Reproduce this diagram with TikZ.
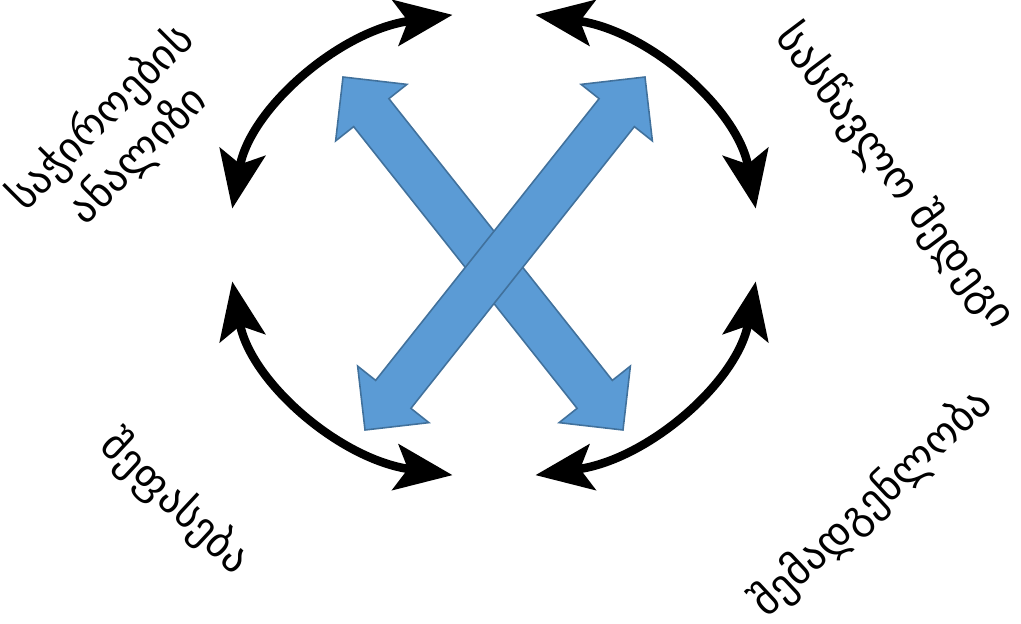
\documentclass[tikz,border=0pt]{standalone}
\usepackage{fontspec}
\newfontfamily\geofont{DejaVu Sans}
\usetikzlibrary{arrows.meta, calc}
\definecolor{crossblue}{HTML}{5B9BD5}
\definecolor{crossline}{HTML}{41719C}
\tikzset{
    cyclearrow/.style={{Stealth[length=1.15cm, width=0.92cm, inset=0.25cm]}-{Stealth[length=1.15cm, width=0.92cm, inset=0.25cm]}, line width=0.17cm, black},
    crossarrow/.style={fill=crossblue, draw=crossline, line width=0.9pt, line join=miter},
    phasetext/.style={font=\geofont\fontsize{24}{30}\selectfont, align=center, inner sep=0pt}
}

\begin{document}
\begin{tikzpicture}[x=0.02cm, y=-0.02cm]
        \useasboundingbox (0,0) rectangle (1021,623);
        % cycle of four arcs
        \coordinate (c) at (494,245);
        \coordinate (tl) at ($(c)+(189:265 and 233)$);
        \coordinate (tr) at ($(c)+(279:265 and 233)$);
        \coordinate (br) at ($(c)+(9:265 and 233)$);
        \coordinate (bl) at ($(c)+(99:265 and 233)$);
        \draw [cyclearrow] (tl) arc[start angle=189, end angle=261, x radius=265, y radius=233];
        \draw [cyclearrow] (tr) arc[start angle=279, end angle=351, x radius=265, y radius=233];
        \draw [cyclearrow] (br) arc[start angle=9, end angle=81, x radius=265, y radius=233];
        \draw [cyclearrow] (bl) arc[start angle=99, end angle=171, x radius=265, y radius=233];
        % the blue cross
        \coordinate (nw) at (343,77);
        \coordinate (se) at (623,430);
        \coordinate (ne) at (645,77);
        \coordinate (sw) at (365,430);
        \filldraw [crossarrow] (nw)
            -- ($(nw)!0.91cm!(se)!0.91cm!90:(se)$) -- ($(nw)!0.91cm!(se)!0.45cm!90:(se)$)
            -- ($(se)!0.91cm!(nw)!0.45cm!-90:(nw)$) -- ($(se)!0.91cm!(nw)!0.91cm!-90:(nw)$)
            -- (se)
            -- ($(se)!0.91cm!(nw)!0.91cm!90:(nw)$) -- ($(se)!0.91cm!(nw)!0.45cm!90:(nw)$)
            -- ($(nw)!0.91cm!(se)!0.45cm!-90:(se)$) -- ($(nw)!0.91cm!(se)!0.91cm!-90:(se)$)
            -- cycle;
        \filldraw [crossarrow] (ne)
            -- ($(ne)!0.91cm!(sw)!0.91cm!90:(sw)$) -- ($(ne)!0.91cm!(sw)!0.45cm!90:(sw)$)
            -- ($(sw)!0.91cm!(ne)!0.45cm!-90:(ne)$) -- ($(sw)!0.91cm!(ne)!0.91cm!-90:(ne)$)
            -- (sw)
            -- ($(sw)!0.91cm!(ne)!0.91cm!90:(ne)$) -- ($(sw)!0.91cm!(ne)!0.45cm!90:(ne)$)
            -- ($(ne)!0.91cm!(sw)!0.45cm!-90:(sw)$) -- ($(ne)!0.91cm!(sw)!0.91cm!-90:(sw)$)
            -- cycle;
        % phase names
        \node [phasetext, rotate=45] (needs) at (120,137) {საჭიროების\\ანალიზი};
        \node [phasetext, rotate=-53] (outcome) at (895,177) {სასწავლო შედეგი};
        \node [phasetext, rotate=43] (content) at (872,503) {შემადგენლობა};
        \node [phasetext, rotate=-43] (assess) at (175,503) {შეფასება};
    \end{tikzpicture}
\end{document}
